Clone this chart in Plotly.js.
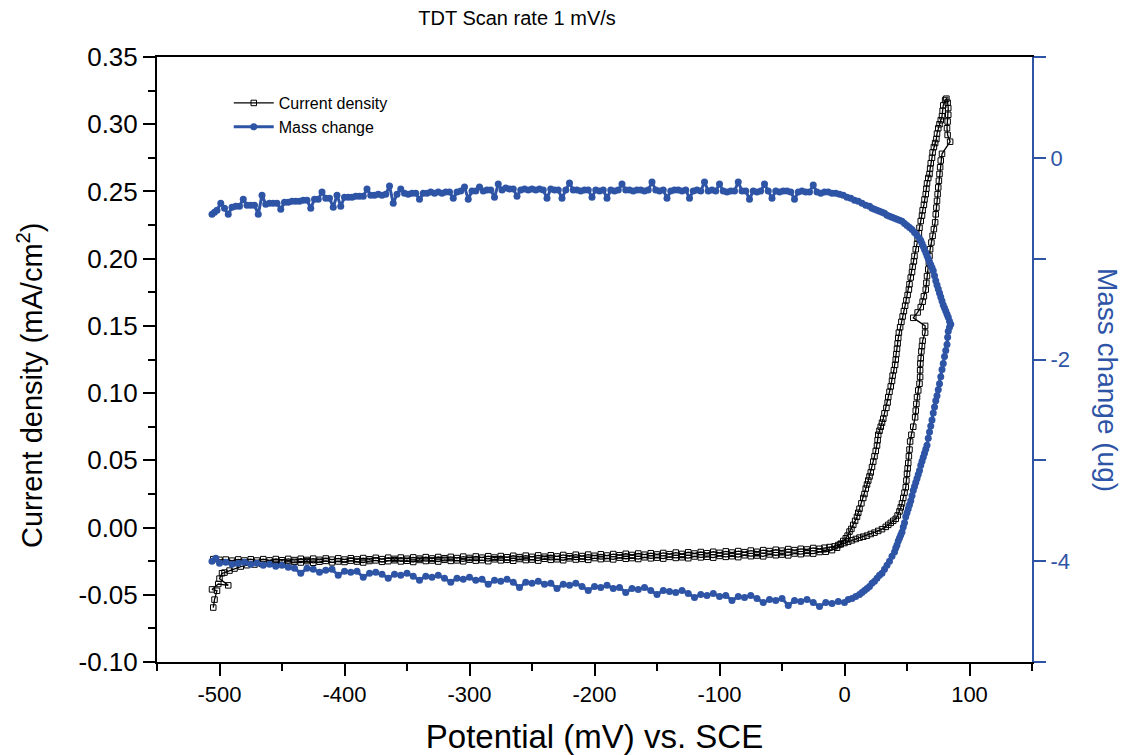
<!DOCTYPE html>
<html>
<head>
<meta charset="utf-8">
<script src="https://cdn.plot.ly/plotly-3.0.1.min.js"></script>
<style>html,body{margin:0;padding:0;background:#fff;}#chart{width:1129px;height:755px;}</style>
</head>
<body>
<div id="chart"></div>
<script>
// ---- DATA: [potential (mV vs SCE), value] ----
// Current density (mA/cm^2), anodic (forward) scan
const currentForwardScan = [
[-505,-0.0595],[-504,-0.0536],[-502,-0.047],[-506,-0.046],[-501,-0.042],[-493,-0.043],[-500,-0.038],[-498,-0.034],[-496,-0.0335],[-492,-0.032],[-488,-0.0305],[-483,-0.029],[-478,-0.028],[-472,-0.0275],[-466,-0.027],[-460,-0.0265],
[-455,-0.0262],[-450,-0.0258],[-445,-0.0266],[-440,-0.0255],[-435,-0.0260],[-430,-0.0250],[-425,-0.0262],[-420,-0.0254],[-415,-0.0248],[-410,-0.0259],[-405,-0.0252],[-400,-0.0256],[-395,-0.0246],[-390,-0.0253],[-385,-0.0260],[-380,-0.0249],[-375,-0.0244],[-370,-0.0255],[-365,-0.0250],[-360,-0.0243],[-355,-0.0252],[-350,-0.0247],[-345,-0.0256],[-340,-0.0241],[-335,-0.0249],[-330,-0.0245],[-325,-0.0253],[-320,-0.0240],[-315,-0.0248],[-310,-0.0244],[-305,-0.0251],[-300,-0.0239],[-295,-0.0246],[-290,-0.0242],[-285,-0.0250],[-280,-0.0236],[-275,-0.0244],[-270,-0.0240],[-265,-0.0247],[-260,-0.0234],[-255,-0.0242],[-250,-0.0238],[-245,-0.0246],[-240,-0.0232],[-235,-0.0240],[-230,-0.0236],[-225,-0.0243],[-220,-0.0229],[-215,-0.0238],[-210,-0.0233],[-205,-0.0240],[-200,-0.0227],[-195,-0.0235],[-190,-0.0230],[-185,-0.0237],[-180,-0.0224],[-175,-0.0232],[-170,-0.0227],[-165,-0.0234],[-160,-0.0221],[-155,-0.0229],[-150,-0.0224],[-145,-0.0231],[-140,-0.0218],[-135,-0.0226],[-130,-0.0221],[-125,-0.0228],[-120,-0.0215],[-115,-0.0222],[-110,-0.0217],[-105,-0.0224],[-100,-0.0211],[-95,-0.0218],[-90,-0.0213],[-85,-0.0220],[-80,-0.0206],[-75,-0.0213],[-70,-0.0208],[-65,-0.0214],[-60,-0.0200],[-55,-0.0206],[-50,-0.0201],[-45,-0.0207],[-40,-0.0193],[-35,-0.0198],[-30,-0.0191],[-25,-0.0194],[-20,-0.0182],[-15,-0.0180],[-10,-0.0168],[-6,-0.0150],
[-3,-0.0125],[0,-0.0115],[3,-0.0105],[6,-0.0095],[9,-0.0085],[12,-0.0075],[15,-0.0068],[18,-0.006],[21,-0.0048],[24,-0.0038],[27,-0.0025],[30,-0.0012],[33,0.0005],[35,0.002],[37,0.0035],[39,0.005],[41,0.0065],[42.5,0.009],[44,0.012],[45,0.015],[46,0.018],[47,0.022],[48,0.026],[49,0.030],[49.5,0.035],[50,0.040],[50.5,0.044],[51,0.048],[51.5,0.053],[52,0.058],[52.5,0.064],[53.5,0.069],[55,0.075],[56.5,0.082],[57,0.087],[57.5,0.092],[58,0.097],[59,0.102],[60,0.107],[60.5,0.112],[60.5,0.117],[60.7,0.122],[61,0.126],[61.5,0.131],[62,0.135],[62.5,0.139],[64.5,0.145],[64.5,0.150],[55,0.156],[58.5,0.160],[61,0.164],[62.5,0.168],[63.5,0.172],[65,0.177],[65.5,0.182],[66,0.187],[67,0.192],[67.5,0.197],[68,0.202],[68.5,0.207],[69.5,0.212],[70.5,0.217],[71.5,0.222],[72.5,0.227],[73,0.233],[73.5,0.238],[74,0.243],[74.5,0.248],[75,0.253],[75.5,0.258],[76,0.263],[76.5,0.268],[77,0.273],[78,0.278],[84.5,0.287],[82.5,0.292],[82,0.297],[82.5,0.302],[83,0.307],[83,0.312],[82.5,0.316],[81.5,0.319]
];
// Current density (mA/cm^2), cathodic (reverse) scan
const currentReverseScan = [
[80.5,0.318],[79,0.314],[78.5,0.310],[78,0.306],[77,0.303],[76,0.300],[75,0.297],[74,0.293],[73.5,0.289],[72.5,0.286],[71.5,0.283],[70.5,0.279],[70,0.275],[69,0.271],[68.5,0.267],[68,0.263],[67,0.260],[66,0.256],[65.5,0.252],[65,0.248],[64,0.244],[63.5,0.240],[62.5,0.236],[62,0.232],[61,0.228],[60,0.223],[59.5,0.219],[58.5,0.215],[58,0.211],[57,0.207],[56,0.202],[55.5,0.198],[54.5,0.194],[54,0.190],[53,0.186],[52,0.181],[51.5,0.177],[50.5,0.173],[49.5,0.169],[48.5,0.165],[47.5,0.161],[46.5,0.157],[45.5,0.153],[44.5,0.149],[43.5,0.145],[43,0.141],[42.5,0.137],[42,0.133],[41.5,0.129],[41,0.125],[40.5,0.121],[39.5,0.117],[38.5,0.113],[38,0.109],[37,0.105],[36,0.101],[35,0.097],[34.5,0.093],[33.5,0.089],[32,0.085],[31,0.081],[30,0.078],[29,0.075],[28,0.072],[27,0.069],[26.5,0.065],[26,0.061],[25,0.057],[24,0.053],[23,0.049],[22,0.045],[21,0.041],[20,0.038],[19,0.035],[18,0.032],[17,0.029],[16,0.025],[15,0.022],[13.5,0.018],[12,0.014],[11,0.011],[10,0.008],[8.5,0.005],[7,0.002],[5.5,-0.001],[4,-0.003],[2.5,-0.006],[1,-0.008],[-1,-0.010],[-3,-0.012],[-5,-0.013],[-8,-0.014],
[-12,-0.0145],[-16,-0.0150],[-20,-0.0158],[-25,-0.0152],[-30,-0.0163],[-35,-0.0158],[-40,-0.0168],[-45,-0.0160],[-50,-0.0172],[-55,-0.0165],[-60,-0.0175],[-65,-0.0168],[-70,-0.0180],[-75,-0.0171],[-80,-0.0183],[-85,-0.0175],[-90,-0.0186],[-95,-0.0177],[-100,-0.0188],[-105,-0.0180],[-110,-0.0191],[-115,-0.0182],[-120,-0.0193],[-125,-0.0184],[-130,-0.0196],[-135,-0.0186],[-140,-0.0198],[-145,-0.0189],[-150,-0.0200],[-155,-0.0191],[-160,-0.0202],[-165,-0.0193],[-170,-0.0204],[-175,-0.0195],[-180,-0.0206],[-185,-0.0197],[-190,-0.0208],[-195,-0.0199],[-200,-0.0210],[-205,-0.0201],[-210,-0.0212],[-215,-0.0202],[-220,-0.0214],[-225,-0.0204],[-230,-0.0215],[-235,-0.0206],[-240,-0.0217],[-245,-0.0207],[-250,-0.0218],[-255,-0.0209],[-260,-0.0220],[-265,-0.0210],[-270,-0.0221],[-275,-0.0212],[-280,-0.0223],[-285,-0.0213],[-290,-0.0224],[-295,-0.0215],[-300,-0.0226],[-305,-0.0216],[-310,-0.0227],[-315,-0.0218],[-320,-0.0228],[-325,-0.0219],[-330,-0.0230],[-335,-0.0220],[-340,-0.0231],[-345,-0.0222],[-350,-0.0232],[-355,-0.0223],[-360,-0.0233],[-365,-0.0224],[-370,-0.0235],[-375,-0.0225],[-380,-0.0236],[-385,-0.0227],[-390,-0.0237],[-395,-0.0228],[-400,-0.0238],[-405,-0.0229],[-410,-0.0239],[-415,-0.0230],[-420,-0.0240],[-425,-0.0231],[-430,-0.0241],[-435,-0.0232],[-440,-0.0242],[-445,-0.0233],[-450,-0.0243],[-455,-0.0234],[-460,-0.0244],[-465,-0.0235],[-470,-0.0245],[-475,-0.0236],[-480,-0.0245],[-485,-0.0237],[-490,-0.0246],[-495,-0.0238],[-500,-0.0240],[-505,-0.0235]
];
// Mass change (ug), anodic (forward) scan
const massForwardScan = [
[-506,-4.00],[-503,-3.97],[-500,-4.02],[-495,-4.01],[-490,-4.03],[-485,-4.02],[-480,-4.01],[-475,-4.03],[-470,-4.02],[-465,-4.04],[-460,-4.03],[-455,-4.05],[-450,-4.04],[-445,-4.06],[-440,-4.07],[-435,-4.12],[-430,-4.07],[-425,-4.08],[-420,-4.11],[-415,-4.09],[-410,-4.08],[-405,-4.14],[-400,-4.10],[-395,-4.11],[-390,-4.10],[-385,-4.16],[-380,-4.12],[-375,-4.11],[-370,-4.13],[-365,-4.17],[-360,-4.13],[-355,-4.14],[-350,-4.12],[-345,-4.15],[-340,-4.19],[-335,-4.15],[-330,-4.16],[-325,-4.14],[-320,-4.17],[-315,-4.21],[-310,-4.17],[-305,-4.18],[-300,-4.16],[-295,-4.19],[-290,-4.18],[-285,-4.23],[-280,-4.19],[-275,-4.20],[-270,-4.18],[-265,-4.21],[-260,-4.26],[-255,-4.21],[-250,-4.22],[-245,-4.20],[-240,-4.23],[-235,-4.22],[-230,-4.27],[-225,-4.23],[-220,-4.24],[-215,-4.22],[-210,-4.25],[-205,-4.29],[-200,-4.25],[-195,-4.26],[-190,-4.24],[-185,-4.27],[-180,-4.26],[-175,-4.31],[-170,-4.27],[-165,-4.28],[-160,-4.26],[-155,-4.29],[-150,-4.33],[-145,-4.29],[-140,-4.30],[-135,-4.31],[-130,-4.29],[-125,-4.32],[-120,-4.36],[-115,-4.33],[-110,-4.34],[-105,-4.32],[-100,-4.35],[-95,-4.34],[-90,-4.39],[-85,-4.35],[-80,-4.36],[-75,-4.34],[-70,-4.37],[-65,-4.41],[-60,-4.38],[-55,-4.39],[-50,-4.37],[-45,-4.44],[-40,-4.39],[-35,-4.40],[-30,-4.38],[-25,-4.41],[-20,-4.45],[-15,-4.41],[-10,-4.42],[-5,-4.40],[0,-4.41],
[3,-4.38],[6,-4.37],[9,-4.35],[12,-4.33],[14,-4.31],[16,-4.29],[18,-4.27],[20,-4.25],[22,-4.22],[24,-4.20],[26,-4.17],[28,-4.14],[30,-4.12],[32,-4.08],[34,-4.04],[36,-4.00],[38,-3.95],[40,-3.91],[41,-3.87],[42,-3.84],[43,-3.80],[44,-3.77],[45,-3.74],[46,-3.71],[47,-3.66],[48,-3.62],[49,-3.56],[50,-3.52],[51,-3.48],[52,-3.44],[53,-3.40],[54,-3.35],[55,-3.30],[56,-3.26],[57,-3.22],[58,-3.18],[59,-3.14],[60,-3.10],[61,-3.05],[62,-3.01],[63,-2.97],[64,-2.93],[65,-2.89],[66,-2.85],[67,-2.78],[68,-2.72],[69,-2.66],[70,-2.60],[71,-2.53],[72,-2.47],[73,-2.41],[74,-2.36],[75,-2.30],[76,-2.24],[77,-2.17],[78,-2.10],[79,-2.04],[80,-1.97],[81,-1.91],[82,-1.85],[82.5,-1.78],[83,-1.72],[84,-1.68],[85,-1.65]
];
// Mass change (ug), cathodic (reverse) scan
const massReverseScan = [
[84,-1.62],[83,-1.58],[82,-1.55],[81,-1.52],[80,-1.49],[79,-1.46],[78,-1.42],[77,-1.38],[76,-1.34],[75,-1.30],[74,-1.26],[73,-1.22],[72,-1.17],[71,-1.12],[70,-1.09],[69,-1.06],[68,-1.03],[67,-1.00],[66,-0.97],[65,-0.94],[64,-0.91],[63,-0.88],[62,-0.85],[61,-0.82],[60,-0.80],[58,-0.77],[56,-0.74],[54,-0.71],[52,-0.69],[50,-0.67],[48,-0.65],[46,-0.63],[44,-0.62],[42,-0.61],[40,-0.60],[38,-0.59],[36,-0.58],[34,-0.57],[32,-0.55],[30,-0.54],[28,-0.53],[26,-0.52],[24,-0.51],[22,-0.50],[20,-0.48],[17,-0.47],[14,-0.45],[11,-0.43],[8,-0.42],[5,-0.40],[2,-0.39],[-1,-0.37],[-4,-0.36],[-7,-0.35],
[-10,-0.35],[-13,-0.34],[-16,-0.34],[-19,-0.35],[-22,-0.34],[-25,-0.27],[-28,-0.34],[-31,-0.34],[-34,-0.33],[-37,-0.34],[-40,-0.41],[-43,-0.34],[-46,-0.33],[-49,-0.33],[-52,-0.34],[-55,-0.33],[-58,-0.40],[-61,-0.33],[-64,-0.26],[-67,-0.33],[-70,-0.34],[-73,-0.33],[-76,-0.41],[-79,-0.33],[-82,-0.33],[-85,-0.24],[-88,-0.33],[-91,-0.33],[-94,-0.34],[-97,-0.33],[-100,-0.26],[-103,-0.33],[-106,-0.32],[-109,-0.33],[-112,-0.24],[-115,-0.33],[-118,-0.32],[-121,-0.33],[-124,-0.40],[-127,-0.32],[-130,-0.33],[-133,-0.32],[-136,-0.32],[-139,-0.33],[-142,-0.40],[-145,-0.32],[-148,-0.33],[-151,-0.32],[-154,-0.24],[-157,-0.32],[-160,-0.33],[-163,-0.32],[-166,-0.32],[-169,-0.33],[-172,-0.32],[-175,-0.32],[-178,-0.26],[-181,-0.32],[-184,-0.33],[-187,-0.32],[-190,-0.40],[-193,-0.32],[-196,-0.33],[-199,-0.32],[-202,-0.39],[-205,-0.32],[-208,-0.32],[-211,-0.33],[-214,-0.32],[-217,-0.32],[-220,-0.25],[-223,-0.32],[-226,-0.40],[-229,-0.32],[-232,-0.32],[-235,-0.31],[-238,-0.40],[-241,-0.32],[-244,-0.31],[-247,-0.32],[-250,-0.31],[-253,-0.32],[-256,-0.31],[-259,-0.32],[-262,-0.38],[-265,-0.31],[-268,-0.31],[-271,-0.30],[-274,-0.32],[-277,-0.26],[-280,-0.39],[-283,-0.32],[-286,-0.32],[-289,-0.33],[-292,-0.29],[-295,-0.33],[-298,-0.33],[-301,-0.41],[-304,-0.29],[-307,-0.33],[-310,-0.34],[-313,-0.40],[-316,-0.34],[-319,-0.34],[-322,-0.35],[-325,-0.34],[-328,-0.35],[-331,-0.34],[-334,-0.35],[-337,-0.35],[-340,-0.41],[-343,-0.35],[-346,-0.35],[-349,-0.36],[-352,-0.35],[-355,-0.31],[-358,-0.36],[-361,-0.45],[-364,-0.28],[-367,-0.36],[-370,-0.37],[-373,-0.36],[-376,-0.37],[-379,-0.37],[-382,-0.31],[-385,-0.38],[-388,-0.38],[-391,-0.38],[-394,-0.39],[-397,-0.39],[-400,-0.39],[-403,-0.48],[-406,-0.37],[-409,-0.49],[-412,-0.40],[-415,-0.40],[-418,-0.34],[-421,-0.41],[-424,-0.41],[-427,-0.50],[-430,-0.42],[-433,-0.42],[-436,-0.43],[-439,-0.43],[-442,-0.43],[-445,-0.44],[-448,-0.44],[-451,-0.51],[-454,-0.45],[-457,-0.45],[-460,-0.45],[-463,-0.46],[-466,-0.37],[-469,-0.56],[-472,-0.47],[-475,-0.47],[-478,-0.47],[-481,-0.41],[-484,-0.48],[-487,-0.48],[-490,-0.49],[-493,-0.56],[-496,-0.50],[-499,-0.45],[-502,-0.52],[-504,-0.54],[-506,-0.56]
];
// Tick labels
const xTickVals = [-500,-400,-300,-200,-100,0,100];
const xTickText = ['-500','-400','-300','-200','-100','0','100'];
const yTickVals = [-0.10,-0.05,0.00,0.05,0.10,0.15,0.20,0.25,0.30,0.35];
const yTickText = ['-0.10','-0.05','0.00','0.05','0.10','0.15','0.20','0.25','0.30','0.35'];
const yTickVals2 = [-4,-2,0];
const yTickText2 = ['-4','-2','0'];

// ---- build traces ----
const FONT = '"Liberation Sans", Arial, Helvetica, sans-serif';
const BLUE = '#2E54A6';
const curAll = currentForwardScan.concat(currentReverseScan);
const massAll = massForwardScan.concat(massReverseScan);

const traces = [
  {
    name: 'Current density', type: 'scatter', mode: 'lines+markers',
    x: curAll.map(p => p[0]), y: curAll.map(p => p[1]),
    line: {color: '#000000', width: 1.3},
    marker: {symbol: 'square-open', size: 5.5, color: '#000000', line: {width: 1}},
    yaxis: 'y'
  },
  {
    name: 'Mass change', type: 'scatter', mode: 'lines+markers',
    x: massAll.map(p => p[0]), y: massAll.map(p => p[1]),
    line: {color: BLUE, width: 3},
    marker: {symbol: 'circle', size: 7, color: BLUE},
    yaxis: 'y2'
  }
];

const layout = {
  width: 1129, height: 755,
  margin: {l: 157, r: 97, t: 57, b: 93},
  paper_bgcolor: '#ffffff', plot_bgcolor: '#ffffff',
  font: {family: FONT, color: '#000'},
  showlegend: true,
  title: {text: 'TDT Scan rate 1 mV/s', font: {size: 20, family: FONT}, x: 0.458, xanchor: 'center', y: 0.976, yanchor: 'middle'},
  legend: {x: 0.082, y: 0.952, xanchor: 'left', yanchor: 'top', bgcolor: 'rgba(0,0,0,0)', font: {size: 16, family: FONT}, tracegroupgap: 0, itemwidth: 40},
  xaxis: {
    range: [-550, 150], tickmode: 'array', tickvals: xTickVals, ticktext: xTickText,
    ticks: 'outside', ticklen: 12, tickwidth: 2, tickcolor: '#000',
    minor: {tickmode: 'linear', tick0: 0, dtick: 50, ticks: 'outside', ticklen: 7, tickwidth: 2, tickcolor: '#000'},
    showline: true, linewidth: 2, linecolor: '#000', mirror: true,
    showgrid: false, zeroline: false,
    tickfont: {size: 22, family: FONT},
    title: {text: 'Potential (mV) vs. SCE', font: {size: 33, family: FONT}, standoff: 18}
  },
  yaxis: {
    range: [-0.10, 0.35], tickmode: 'array', tickvals: yTickVals, ticktext: yTickText,
    ticks: 'outside', ticklen: 12, tickwidth: 2, tickcolor: '#000',
    minor: {tickmode: 'linear', tick0: 0, dtick: 0.025, ticks: 'outside', ticklen: 7, tickwidth: 2, tickcolor: '#000'},
    showline: true, linewidth: 2, linecolor: '#000',
    showgrid: false, zeroline: false,
    tickfont: {size: 26, family: FONT}
  },
  yaxis2: {
    overlaying: 'y', side: 'right', range: [-5, 1],
    tickmode: 'array', tickvals: yTickVals2, ticktext: yTickText2,
    ticks: 'outside', ticklen: 12, tickwidth: 2, tickcolor: BLUE,
    minor: {tickmode: 'linear', tick0: 0, dtick: 1, ticks: 'outside', ticklen: 12, tickwidth: 2, tickcolor: BLUE},
    showline: true, linewidth: 2, linecolor: BLUE,
    showgrid: false, zeroline: false,
    tickfont: {size: 22, family: FONT, color: BLUE}
  },
  annotations: [
    {text: 'Current density (mA/cm<sup>2</sup>)', xref: 'paper', yref: 'paper', x: -0.145, y: 0.458,
     xanchor: 'center', yanchor: 'middle', showarrow: false, textangle: -90,
     font: {size: 29, family: FONT, color: '#000'}},
    {text: 'Mass change (ug)', xref: 'paper', yref: 'paper', x: 1.087, y: 0.466,
     xanchor: 'center', yanchor: 'middle', showarrow: false, textangle: 90,
     font: {size: 28, family: FONT, color: BLUE}}
  ]
};

Plotly.newPlot('chart', traces, layout, {displayModeBar: false, staticPlot: true});
</script>
</body>
</html>
